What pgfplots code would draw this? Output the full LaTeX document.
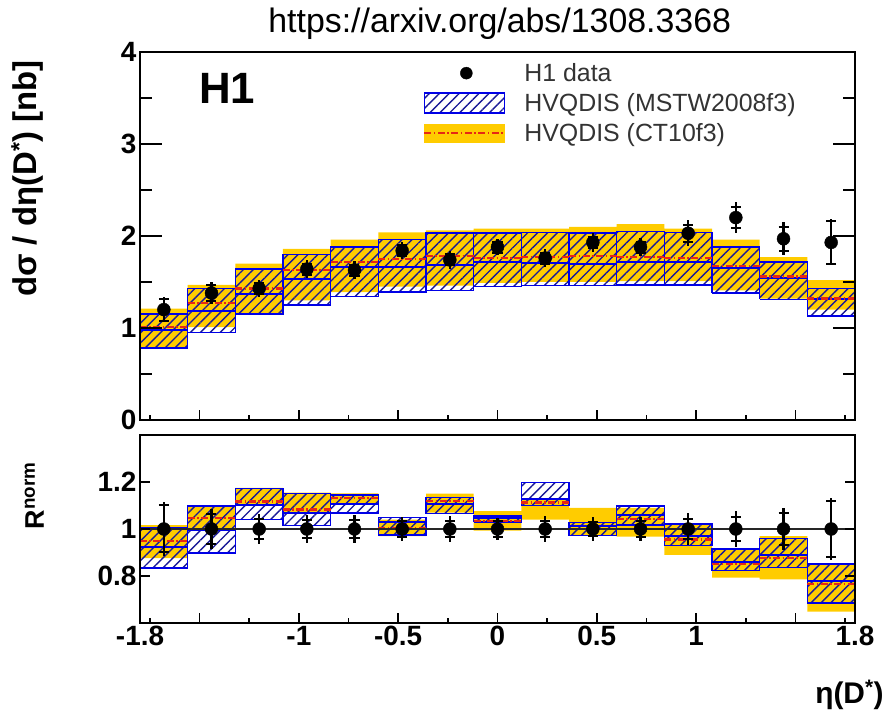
\documentclass[border=0pt]{standalone}
\usepackage{fontspec}
\setmainfont{Liberation Sans}
\usepackage{pgfplots}
\usepackage{pgfplotstable}
\pgfplotsset{compat=1.18}
\usetikzlibrary{patterns.meta,calc}
\definecolor{bandorange}{RGB}{255,204,0}
\definecolor{hblue}{RGB}{0,0,230}
\definecolor{hatchc}{RGB}{25,25,150}
\definecolor{ctred}{RGB}{230,40,20}
\tikzset{hatchstyle/.style={pattern={Lines[angle=45,distance=7bp,line width=1.4bp]}, pattern color=hatchc}}
\tikzset{ctdash/.style={dash pattern=on 7bp off 2.5bp on 1.5bp off 2.5bp}}
\begin{document}
% data: x, value, total error, stat error, ratio, relative total, relative stat
\pgfplotstableread{
x y et es ry rt rs
-1.68 1.20 0.14 0.12 1 0.117 0.100
-1.44 1.38 0.12 0.09 1 0.087 0.065
-1.20 1.43 0.09 0.06 1 0.063 0.042
-0.96 1.64 0.10 0.06 1 0.061 0.037
-0.72 1.63 0.10 0.06 1 0.061 0.037
-0.48 1.84 0.09 0.06 1 0.049 0.033
-0.24 1.74 0.10 0.06 1 0.057 0.034
0.00 1.88 0.09 0.06 1 0.048 0.032
0.24 1.76 0.10 0.06 1 0.057 0.034
0.48 1.93 0.10 0.06 1 0.052 0.031
0.72 1.88 0.10 0.06 1 0.053 0.032
0.96 2.03 0.14 0.09 1 0.069 0.044
1.20 2.20 0.17 0.11 1 0.077 0.050
1.44 1.97 0.18 0.13 1 0.091 0.066
1.68 1.93 0.25 0.23 1 0.130 0.120
}\datatab
% band boxes, upper panel (m = MSTW2008f3, c = CT10f3)
\pgfplotstableread{
x m c
-1.80 0.78 0.79
-1.56 0.78 0.79
-1.56 1.15 1.21
-1.80 1.15 1.21
-1.80 0.78 0.79
nan nan nan
-1.56 0.95 1.01
-1.32 0.95 1.01
-1.32 1.43 1.47
-1.56 1.43 1.47
-1.56 0.95 1.01
nan nan nan
-1.32 1.15 1.16
-1.08 1.15 1.16
-1.08 1.64 1.70
-1.32 1.64 1.70
-1.32 1.15 1.16
nan nan nan
-1.08 1.25 1.30
-0.84 1.25 1.30
-0.84 1.80 1.86
-1.08 1.80 1.86
-1.08 1.25 1.30
nan nan nan
-0.84 1.34 1.39
-0.60 1.34 1.39
-0.60 1.88 1.96
-0.84 1.88 1.96
-0.84 1.34 1.39
nan nan nan
-0.60 1.39 1.45
-0.36 1.39 1.45
-0.36 1.96 2.04
-0.60 1.96 2.04
-0.60 1.39 1.45
nan nan nan
-0.36 1.41 1.46
-0.12 1.41 1.46
-0.12 2.03 2.06
-0.36 2.03 2.06
-0.36 1.41 1.46
nan nan nan
-0.12 1.45 1.49
0.12 1.45 1.49
0.12 2.03 2.08
-0.12 2.03 2.08
-0.12 1.45 1.49
nan nan nan
0.12 1.46 1.50
0.36 1.46 1.50
0.36 2.04 2.08
0.12 2.04 2.08
0.12 1.46 1.50
nan nan nan
0.36 1.46 1.50
0.60 1.46 1.50
0.60 2.03 2.10
0.36 2.03 2.10
0.36 1.46 1.50
nan nan nan
0.60 1.47 1.51
0.84 1.47 1.51
0.84 2.05 2.13
0.60 2.05 2.13
0.60 1.47 1.51
nan nan nan
0.84 1.47 1.51
1.08 1.47 1.51
1.08 2.04 2.08
0.84 2.04 2.08
0.84 1.47 1.51
nan nan nan
1.08 1.38 1.41
1.32 1.38 1.41
1.32 1.88 1.96
1.08 1.88 1.96
1.08 1.38 1.41
nan nan nan
1.32 1.31 1.32
1.56 1.31 1.32
1.56 1.72 1.77
1.32 1.72 1.77
1.32 1.31 1.32
nan nan nan
1.56 1.13 1.20
1.80 1.13 1.20
1.80 1.43 1.52
1.56 1.43 1.52
1.56 1.13 1.20
}\upperrect
\pgfplotstableread{
x m c
-1.80 0.98 1.01
-1.56 0.98 1.01
nan nan nan
-1.56 1.18 1.27
-1.32 1.18 1.27
nan nan nan
-1.32 1.37 1.43
-1.08 1.37 1.43
nan nan nan
-1.08 1.53 1.63
-0.84 1.53 1.63
nan nan nan
-0.84 1.66 1.72
-0.60 1.66 1.72
nan nan nan
-0.60 1.66 1.75
-0.36 1.66 1.75
nan nan nan
-0.36 1.68 1.78
-0.12 1.68 1.78
nan nan nan
-0.12 1.72 1.76
0.12 1.72 1.76
nan nan nan
0.12 1.71 1.77
0.36 1.71 1.77
nan nan nan
0.36 1.70 1.78
0.60 1.70 1.78
nan nan nan
0.60 1.72 1.77
0.84 1.72 1.77
nan nan nan
0.84 1.72 1.76
1.08 1.72 1.76
nan nan nan
1.08 1.65 1.67
1.32 1.65 1.67
nan nan nan
1.32 1.54 1.56
1.56 1.54 1.56
nan nan nan
1.56 1.31 1.32
1.80 1.31 1.32
}\uppercen
% band boxes, ratio panel
\pgfplotstableread{
x m c
-1.80 0.834 0.876
-1.56 0.834 0.876
-1.56 1.007 1.017
-1.80 1.007 1.017
-1.80 0.834 0.876
nan nan nan
-1.56 0.897 1.000
-1.32 0.897 1.000
-1.32 1.097 1.100
-1.56 1.097 1.100
-1.56 0.897 1.000
nan nan nan
-1.32 1.041 1.100
-1.08 1.041 1.100
-1.08 1.172 1.175
-1.32 1.172 1.175
-1.32 1.041 1.100
nan nan nan
-1.08 1.014 1.070
-0.84 1.014 1.070
-0.84 1.152 1.155
-1.08 1.152 1.155
-1.08 1.014 1.070
nan nan nan
-0.84 1.069 1.110
-0.60 1.069 1.110
-0.60 1.145 1.152
-0.84 1.145 1.152
-0.84 1.069 1.110
nan nan nan
-0.60 0.975 0.970
-0.36 0.975 0.970
-0.36 1.048 1.040
-0.60 1.048 1.040
-0.60 0.975 0.970
nan nan nan
-0.36 1.065 1.070
-0.12 1.065 1.070
-0.12 1.135 1.150
-0.36 1.135 1.150
-0.36 1.065 1.070
nan nan nan
-0.12 1.030 0.993
0.12 1.030 0.993
0.12 1.055 1.076
-0.12 1.055 1.076
-0.12 1.030 0.993
nan nan nan
0.12 1.100 1.040
0.36 1.100 1.040
0.36 1.197 1.125
0.12 1.197 1.125
0.12 1.100 1.040
nan nan nan
0.36 0.972 0.975
0.60 0.972 0.975
0.60 1.028 1.090
0.36 1.028 1.090
0.36 0.972 0.975
nan nan nan
0.60 1.017 0.968
0.84 1.017 0.968
0.84 1.097 1.090
0.60 1.097 1.090
0.60 1.017 0.968
nan nan nan
0.84 0.930 0.890
1.08 0.930 0.890
1.08 1.021 1.020
0.84 1.021 1.020
0.84 0.930 0.890
nan nan nan
1.08 0.823 0.793
1.32 0.823 0.793
1.32 0.914 0.910
1.08 0.914 0.910
1.08 0.823 0.793
nan nan nan
1.32 0.837 0.786
1.56 0.837 0.786
1.56 0.959 0.970
1.32 0.959 0.970
1.32 0.837 0.786
nan nan nan
1.56 0.686 0.648
1.80 0.686 0.648
1.80 0.851 0.850
1.56 0.851 0.850
1.56 0.686 0.648
}\lowerrect
\pgfplotstableread{
x m c
-1.80 0.924 0.948
-1.56 0.924 0.948
nan nan nan
-1.56 0.997 1.048
-1.32 0.997 1.048
nan nan nan
-1.32 1.103 1.117
-1.08 1.103 1.117
nan nan nan
-1.08 1.069 1.083
-0.84 1.069 1.083
nan nan nan
-0.84 1.105 1.131
-0.60 1.105 1.131
nan nan nan
-0.60 1.030 1.005
-0.36 1.030 1.005
nan nan nan
-0.36 1.105 1.120
-0.12 1.105 1.120
nan nan nan
-0.12 1.045 1.035
0.12 1.045 1.035
nan nan nan
0.12 1.127 1.113
0.36 1.127 1.113
nan nan nan
0.36 1.014 1.000
0.60 1.014 1.000
nan nan nan
0.60 1.058 1.041
0.84 1.058 1.041
nan nan nan
0.84 0.972 0.955
1.08 0.972 0.955
nan nan nan
1.08 0.859 0.852
1.32 0.859 0.852
nan nan nan
1.32 0.890 0.875
1.56 0.890 0.875
nan nan nan
1.56 0.777 0.765
1.80 0.777 0.765
}\lowercen
\begin{tikzpicture}
\pgfplotsset{
  every axis/.append style={
    scale only axis, width=715bp, xmin=-1.8, xmax=1.8,
    axis line style={line width=1.5bp, black},
    tick style={line width=1.5bp, black},
    tick align=inside, xtick pos=bottom, ytick pos=both,
    major tick length=10bp, minor tick length=5bp,
    tick label style={font=\fontsize{28}{30}\selectfont\bfseries},
    clip=false, axis on top,
    unbounded coords=jump,
  },
}
\begin{axis}[name=top, at={(0,0)}, anchor=south west, height=368bp,
  ymin=0, ymax=4,
  ytick={0,1,2,3,4}, yticklabels={0,1,2,3,4},
  minor ytick={0.5,1.5,2.5,3.5},
  y tick style={/pgfplots/major tick length=22bp,/pgfplots/minor tick length=12bp},
  xtick={-1.5,-1,-0.5,0,0.5,1,1.5}, xticklabels={},
  minor xtick={-1.75,-1.25,-0.75,-0.25,0.25,0.75,1.25,1.75},
  ylabel={dσ / dη(D\textsuperscript{*}) [nb]},
  every axis y label/.style={at={(rel axis cs:-0.158,0.978)}, rotate=90, anchor=east, inner sep=0pt, font=\fontsize{33}{36}\selectfont\bfseries},
  legend cell align=left,
  legend style={at={(rel axis cs:0.396,0.975)}, anchor=north west, draw=none, fill=none,
    font=\fontsize{25}{27}\selectfont, text=black!80, inner sep=0pt, row sep=6.5bp, column sep=17bp},
]
\addlegendimage{legend image code/.code={\path[draw=none,fill=none] (0,-9bp) rectangle (80bp,9bp); \fill[black] (42bp,0) circle (6bp);}}
\addlegendentry{H1 data}
\addlegendimage{legend image code/.code={\draw[hblue, line width=1.5bp, hatchstyle] (0,-10bp) rectangle (80bp,10bp);}}
\addlegendentry{HVQDIS (MSTW2008f3)}
\addlegendimage{legend image code/.code={\fill[bandorange] (0,-9bp) rectangle (80bp,9bp); \draw[ctred, line width=2bp, ctdash] (0,0) -- (80bp,0);}}
\addlegendentry{HVQDIS (CT10f3)}

\addplot[draw=none, fill=bandorange, forget plot] table[x=x, y=c] {\upperrect};
\addplot[draw=hblue, line width=1.5bp, hatchstyle, forget plot] table[x=x, y=m] {\upperrect};
\addplot[hblue, line width=2bp, forget plot] table[x=x, y=m] {\uppercen};
\addplot[ctred, line width=2.2bp, ctdash, forget plot] table[x=x, y=c] {\uppercen};
\addplot[draw=none, mark=none, forget plot, error bars/.cd, y dir=both, y explicit,
  error mark=-, error mark options={rotate=90, line width=2bp, mark size=5bp, black},
  error bar style={line width=2.5bp, black}] table[x=x, y=y, y error=es] {\datatab};
\addplot[black, only marks, mark=*, mark size=6.5bp, forget plot, error bars/.cd, y dir=both, y explicit,
  error mark=none, error bar style={line width=2.5bp, black}] table[x=x, y=y, y error=et] {\datatab};

\node[font=\fontsize{34}{36}\selectfont] at (rel axis cs:0.503,1.078) {https://arxiv.org/abs/1308.3368};
\node[font=\fontsize{44}{48}\selectfont\bfseries] at (rel axis cs:0.122,0.902) {H1};
\end{axis}

\begin{axis}[name=bot, at={($(top.south west)+(0,-15bp)$)}, anchor=north west, height=188bp,
  ymin=0.6, ymax=1.4,
  ytick={0.8,1,1.2}, yticklabels={0.8,1,1.2},
  xtick={-1.5,-1,-0.5,0,0.5,1,1.5}, xticklabels={{},-1,-0.5,0,0.5,1,{}},
  minor xtick={-1.75,-1.25,-0.75,-0.25,0.25,0.75,1.25,1.75},
  extra x ticks={-1.8,1.8}, extra x tick labels={-1.8,1.8},
  extra x tick style={tick style={draw=none}},
  ylabel={R\textsuperscript{norm}},
  every axis y label/.style={at={(rel axis cs:-0.148,0.856)}, rotate=90, anchor=east, inner sep=0pt, font=\fontsize{27}{30}\selectfont\bfseries},
  xlabel={η(D\textsuperscript{*})},
  every axis x label/.style={at={(rel axis cs:1.045,-0.383)}, anchor=east, font=\fontsize{30}{32}\selectfont\bfseries},
]
\addplot[draw=none, fill=bandorange, forget plot] table[x=x, y=c] {\lowerrect};
\addplot[draw=hblue, line width=1.5bp, hatchstyle, forget plot] table[x=x, y=m] {\lowerrect};
\addplot[hblue, line width=2bp, forget plot] table[x=x, y=m] {\lowercen};
\addplot[ctred, line width=2.2bp, ctdash, forget plot] table[x=x, y=c] {\lowercen};
\addplot[black!85, line width=1.5bp, forget plot] coordinates {(-1.8,1) (1.8,1)};
\addplot[draw=none, mark=none, forget plot, error bars/.cd, y dir=both, y explicit,
  error mark=-, error mark options={rotate=90, line width=2bp, mark size=5bp, black},
  error bar style={line width=2.5bp, black}] table[x=x, y=ry, y error=rs] {\datatab};
\addplot[black, only marks, mark=*, mark size=6.5bp, forget plot, error bars/.cd, y dir=both, y explicit,
  error mark=none, error bar style={line width=2.5bp, black}] table[x=x, y=ry, y error=rt] {\datatab};
\end{axis}
\pgfresetboundingbox
\path[use as bounding box] (top.south west) ++(-140bp,-291bp) rectangle ++(884bp,711bp);
\end{tikzpicture}
\end{document}
